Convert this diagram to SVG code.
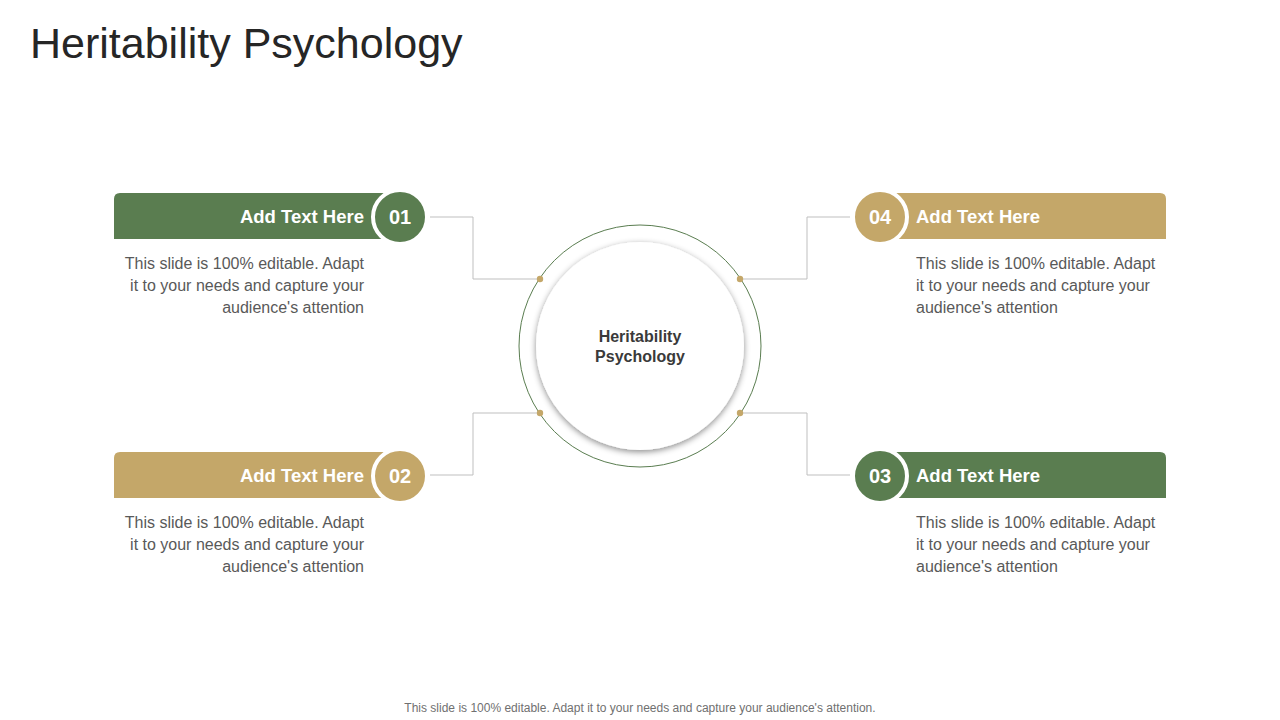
<svg xmlns="http://www.w3.org/2000/svg" width="1280" height="720" viewBox="0 0 1280 720">
<defs>
<style>
.title{font-family:"Liberation Sans",Arial,sans-serif;font-size:43px;fill:#262626}
.lbl{font-family:"Liberation Sans",Arial,sans-serif;font-size:18.5px;font-weight:bold;fill:#fff}
.num{font-family:"Liberation Sans",Arial,sans-serif;font-size:20px;font-weight:bold;fill:#fff;text-anchor:middle}
.body{font-family:"Liberation Sans",Arial,sans-serif;font-size:16px;fill:#595959}
.center{font-family:"Liberation Sans",Arial,sans-serif;font-size:16px;font-weight:bold;fill:#3a3a3a;text-anchor:middle}
.foot{font-family:"Liberation Sans",Arial,sans-serif;font-size:12px;fill:#707070;text-anchor:middle}
.green{fill:#5A7D50}
.tan{fill:#C4A769}
.ring{stroke:#fff;stroke-width:4}
.conn{fill:none;stroke:#bfbfbf;stroke-width:1}
.dot{fill:#C4A769}
</style>
<filter id="sh" x="-20%" y="-20%" width="140%" height="140%">
<feDropShadow dx="0" dy="2" stdDeviation="3" flood-color="#000" flood-opacity="0.45"/>
</filter>
</defs>
<rect width="1280" height="720" fill="#fff"/>
<text class="title" x="30" y="58">Heritability Psychology</text>

<g id="connectors">
<polyline class="conn" points="430,217 473,217 473,279 540,279"/>
<polyline class="conn" points="430,475 473,475 473,413 540,413"/>
<polyline class="conn" points="850,217 807,217 807,279 740,279"/>
<polyline class="conn" points="850,475 807,475 807,413 740,413"/>
</g>

<g id="center">
<circle cx="640" cy="346" r="121" fill="#fff" stroke="#5A7D50" stroke-width="1"/>
<circle cx="640" cy="346" r="104" fill="#fff" filter="url(#sh)"/>
<circle class="dot" cx="540" cy="279" r="3.2"/>
<circle class="dot" cx="540" cy="413" r="3.2"/>
<circle class="dot" cx="740" cy="279" r="3.2"/>
<circle class="dot" cx="740" cy="413" r="3.2"/>
<text class="center" x="640" y="342">Heritability</text>
<text class="center" x="640" y="362">Psychology</text>
</g>

<g id="node-01">
<path class="green" d="M120,193 H400 V239 H114 V199 Q114,193 120,193 Z"/>
<circle class="green ring" cx="400" cy="217" r="27"/>
<text class="num" x="400" y="224">01</text>
<text class="lbl" x="364" y="223" text-anchor="end">Add Text Here</text>
<text class="body" text-anchor="end"><tspan x="364" y="269">This slide is 100% editable. Adapt</tspan><tspan x="364" y="291">it to your  needs and capture your</tspan><tspan x="364" y="313">audience's attention</tspan></text>
</g>

<g id="node-02">
<path class="tan" d="M120,452 H400 V498 H114 V458 Q114,452 120,452 Z"/>
<circle class="tan ring" cx="400" cy="476" r="27"/>
<text class="num" x="400" y="483">02</text>
<text class="lbl" x="364" y="482" text-anchor="end">Add Text Here</text>
<text class="body" text-anchor="end"><tspan x="364" y="528">This slide is 100% editable. Adapt</tspan><tspan x="364" y="550">it to your  needs and capture your</tspan><tspan x="364" y="572">audience's attention</tspan></text>
</g>

<g id="node-04">
<path class="tan" d="M880,193 H1160 Q1166,193 1166,199 V239 H880 Z"/>
<circle class="tan ring" cx="880" cy="217" r="27"/>
<text class="num" x="880" y="224">04</text>
<text class="lbl" x="916" y="223">Add Text Here</text>
<text class="body"><tspan x="916" y="269">This slide is 100% editable. Adapt</tspan><tspan x="916" y="291">it to your  needs and capture your</tspan><tspan x="916" y="313">audience's attention</tspan></text>
</g>

<g id="node-03">
<path class="green" d="M880,452 H1160 Q1166,452 1166,458 V498 H880 Z"/>
<circle class="green ring" cx="880" cy="476" r="27"/>
<text class="num" x="880" y="483">03</text>
<text class="lbl" x="916" y="482">Add Text Here</text>
<text class="body"><tspan x="916" y="528">This slide is 100% editable. Adapt</tspan><tspan x="916" y="550">it to your  needs and capture your</tspan><tspan x="916" y="572">audience's attention</tspan></text>
</g>

<text class="foot" x="640" y="712">This slide is 100% editable. Adapt it to your needs and capture your audience's attention.</text>
</svg>
